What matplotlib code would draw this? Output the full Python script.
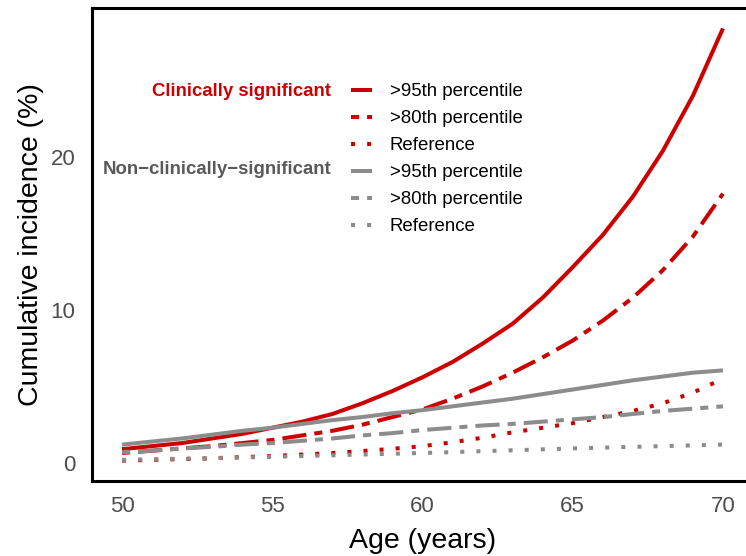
import numpy as np
import matplotlib
matplotlib.use("Agg")
import matplotlib.pyplot as plt

plt.rcParams['font.family'] = ['Liberation Sans', 'DejaVu Sans']

# ages and cumulative incidence (%)
age = np.arange(50, 71)

clin_95 = [0.9, 1.1, 1.3, 1.6, 1.9, 2.3, 2.7, 3.2, 3.9, 4.7, 5.6,
           6.6, 7.8, 9.1, 10.8, 12.8, 14.9, 17.4, 20.4, 24.0, 28.4]
clin_80 = [0.65, 0.8, 0.95, 1.1, 1.3, 1.5, 1.8, 2.1, 2.5, 3.0, 3.5,
           4.2, 5.0, 5.9, 6.9, 8.0, 9.3, 10.8, 12.6, 14.8, 17.6]
clin_ref = [0.15, 0.2, 0.25, 0.3, 0.38, 0.45, 0.55, 0.65, 0.78, 0.92, 1.1,
            1.35, 1.65, 2.0, 2.3, 2.6, 3.0, 3.4, 3.9, 4.6, 5.5]

nonclin_95 = [1.2, 1.4, 1.6, 1.85, 2.1, 2.3, 2.55, 2.8, 3.0, 3.25, 3.45,
              3.7, 3.95, 4.2, 4.5, 4.8, 5.1, 5.4, 5.65, 5.9, 6.05]
nonclin_80 = [0.7, 0.8, 0.95, 1.05, 1.2, 1.3, 1.45, 1.6, 1.8, 1.95, 2.15,
              2.3, 2.45, 2.55, 2.7, 2.85, 3.0, 3.2, 3.4, 3.55, 3.7]
nonclin_ref = [0.2, 0.24, 0.28, 0.32, 0.36, 0.4, 0.45, 0.5, 0.55, 0.6, 0.65,
               0.71, 0.77, 0.83, 0.89, 0.95, 1.0, 1.05, 1.1, 1.15, 1.2]

pct_labels = ['>95th percentile', '>80th percentile', 'Reference']

RED = '#CD0000'
GREY = '#8C8C8C'
LW = 2.9
styles = [dict(linestyle='-'),
          dict(dashes=(2, 2, 6, 2)),
          dict(dashes=(1, 3))]

fig = plt.figure(figsize=(7.46, 5.56), dpi=100)
W, H = 746, 556
ax = fig.add_axes([92 / W, 1 - 481 / H, (753 - 92) / W, (481 - 7.5) / H])

handles = []
for series, st in zip([clin_95, clin_80, clin_ref], styles):
    ln, = ax.plot(age, series, color=RED, lw=LW, solid_capstyle='butt', **st)
    handles.append(ln)
for series, st in zip([nonclin_95, nonclin_80, nonclin_ref], styles):
    ln, = ax.plot(age, series, color=GREY, lw=LW, solid_capstyle='butt', **st)
    handles.append(ln)

ax.set_xlim(49, 71)
ax.set_ylim(-1.18, 29.77)
ax.set_xticks([50, 55, 60, 65, 70])
ax.set_yticks([0, 10, 20])
ax.tick_params(length=0, labelsize=16, labelcolor='#4D4D4D')
ax.tick_params(axis='x', pad=11)
ax.tick_params(axis='y', pad=12)
for sp in ax.spines.values():
    sp.set_linewidth(2.2)
    sp.set_color('black')

ax.set_xlabel('Age (years)', fontsize=20.5, labelpad=8)
ax.set_ylabel('Cumulative incidence (%)', fontsize=20.5, labelpad=5)

leg = fig.legend(handles, pct_labels * 2, loc='upper left',
                 bbox_to_anchor=(350.5 / W, 1 - 83 / H),
                 frameon=False, fontsize=13.4, handlelength=1.18,
                 handletextpad=0.93, labelspacing=0.54, borderpad=0,
                 borderaxespad=0)

fig.text(331 / W, 1 - 91 / H, 'Clinically significant', color=RED,
         fontsize=13.4, fontweight='bold', ha='right', va='center')
fig.text(331 / W, 1 - 170 / H, 'Non\u2212clinically\u2212significant',
         color='#595959', fontsize=13.4, fontweight='bold', ha='right', va='center')

fig.savefig('out.png', dpi=100)
